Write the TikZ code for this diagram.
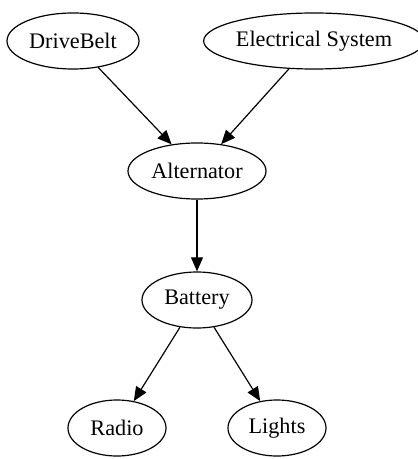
\documentclass[tikz,border=0pt]{standalone}
\usepackage{fontspec}
\setmainfont{Liberation Serif}
\usetikzlibrary{shapes.geometric, arrows.meta}

\begin{document}
\begin{tikzpicture}[x=0.025cm, y=-0.025cm, >={Triangle[length=10pt, width=8.5pt]},
    part/.style={ellipse, draw, line width=0.85pt, inner sep=0pt, minimum height=1.4cm,
      font=\fontsize{15.8}{19}\selectfont},
    link/.style={->, line width=0.85pt}]
    \useasboundingbox (0,0) rectangle (417,459);

    % 上の段
    \node[part, minimum width=3.3cm] (drivebelt) at (73,41) {DriveBelt};
    \node[part, minimum width=4.7cm] (electrical) at (314,41) {Electrical System};

    % 中の段
    \node[part, minimum width=3.45cm] (alternator) at (197,171) {Alternator};
    \node[part, minimum width=2.75cm] (battery) at (197,300) {Battery};

    % 下の段
    \node[part, minimum width=2.45cm] (radio) at (117,428) {Radio};
    \node[part, minimum width=2.45cm] (lights) at (277,428) {Lights};

    % 矢印
    \draw[link] (drivebelt) -- (alternator);
    \draw[link] (electrical) -- (alternator);
    \draw[link] (alternator) -- (battery);
    \draw[link] (battery) -- (radio);
    \draw[link] (battery) -- (lights);
  \end{tikzpicture}
\end{document}
